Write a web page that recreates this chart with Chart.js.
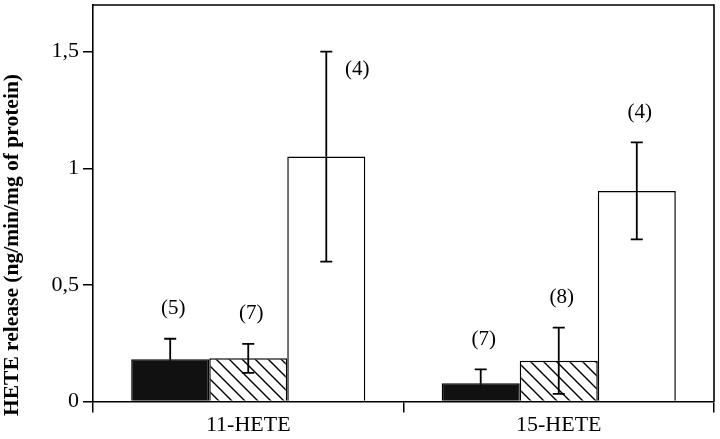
<!DOCTYPE html>
<html>
<head>
<meta charset="utf-8">
<script src="https://cdn.jsdelivr.net/npm/chart.js@4/dist/chart.umd.min.js"></script>
<style>
html,body{margin:0;padding:0;background:#fff;}
#wrap{width:720px;height:439px;position:relative;}
</style>
</head>
<body>
<div id="wrap"><canvas id="c" width="720" height="439"></canvas></div>
<script>
// ---- data ----
const categories = ['11-HETE', '15-HETE'];
const blackValues = [0.181, 0.078];
const blackErr = [0.088, 0.060];
const hatchValues = [0.185, 0.175];
const hatchErr = [0.062, 0.142];
const whiteValues = [1.05, 0.903];
const whiteErr = [0.45, 0.208];
const blackN = ['(5)', '(7)'];
const hatchN = ['(7)', '(8)'];
const whiteN = ['(4)', '(4)'];
const yTickValues = [0, 0.5, 1, 1.5];
const yTickLabels = ['0', '0,5', '1', '1,5'];
const yTitle = 'HETE release (ng/min/mg of protein)';

const FONT = "'Liberation Serif', 'Times New Roman', serif";

function hatchPattern() {
  const s = 13;
  const cv = document.createElement('canvas');
  cv.width = s; cv.height = s;
  const g = cv.getContext('2d');
  g.fillStyle = '#fff';
  g.fillRect(0, 0, s, s);
  g.strokeStyle = '#000';
  g.lineWidth = 1.4;
  g.beginPath();
  g.moveTo(-2, -2); g.lineTo(s + 2, s + 2);
  g.moveTo(-2, s - 2); g.lineTo(2, s + 2);
  g.moveTo(s - 2, -2); g.lineTo(s + 2, 2);
  g.stroke();
  return g.createPattern(cv, 'repeat');
}
const ctx = document.getElementById('c').getContext('2d');

const extrasPlugin = {
  id: 'extras',
  afterDatasetsDraw(chart) {
    const c = chart.ctx;
    const ys = chart.scales.y;
    const area = chart.chartArea;
    // frame: top and right
    c.save();
    c.strokeStyle = '#000';
    c.lineWidth = 1.6;
    c.beginPath();
    c.moveTo(area.left, area.top);
    c.lineTo(area.right, area.top);
    c.lineTo(area.right, area.bottom);
    c.stroke();
    c.restore();
    chart.data.datasets.forEach((ds, di) => {
      const meta = chart.getDatasetMeta(di);
      meta.data.forEach((el, i) => {
        const v = ds.data[i];
        const e = ds.err[i];
        const yT = ys.getPixelForValue(v + e);
        const yV = ys.getPixelForValue(v);
        const yB = ys.getPixelForValue(Math.max(0, v - e));
        c.save();
        c.lineWidth = 1.8;
        c.strokeStyle = '#000';
        c.beginPath();
        c.moveTo(el.x, yT); c.lineTo(el.x, yV);
        c.moveTo(el.x - 6, yT); c.lineTo(el.x + 6, yT);
        c.stroke();
        c.strokeStyle = ds.lowerErrColor;
        c.beginPath();
        c.moveTo(el.x, yV); c.lineTo(el.x, yB);
        c.moveTo(el.x - 6, yB); c.lineTo(el.x + 6, yB);
        c.stroke();
        // n labels
        c.fillStyle = '#000';
        c.font = '21px ' + FONT;
        c.textAlign = 'center';
        c.textBaseline = 'middle';
        const side = ds.labelSide[i];
        if (side === 'right') {
          c.fillText(ds.nLabels[i], el.x + 31, yT + 18);
        } else {
          c.fillText(ds.nLabels[i], el.x + 3, yT - 30);
        }
        c.restore();
      });
    });
    // y title
    c.save();
    c.fillStyle = '#000';
    c.font = 'bold 21.5px ' + FONT;
    c.textAlign = 'center';
    c.textBaseline = 'middle';
    c.translate(12, 245);
    c.rotate(-Math.PI / 2);
    c.fillText(yTitle, 0, 0);
    c.restore();
  }
};

new Chart(ctx, {
  type: 'bar',
  data: {
    labels: categories,
    datasets: [
      { data: blackValues, err: blackErr, nLabels: blackN, labelSide: ['above', 'above'], lowerErrColor: '#111',
        backgroundColor: '#111', borderColor: '#000', borderWidth: 1.5 },
      { data: hatchValues, err: hatchErr, nLabels: hatchN, labelSide: ['above', 'above'], lowerErrColor: '#000',
        backgroundColor: hatchPattern(), borderColor: '#000', borderWidth: 1.5 },
      { data: whiteValues, err: whiteErr, nLabels: whiteN, labelSide: ['right', 'above'], lowerErrColor: '#000',
        backgroundColor: '#fff', borderColor: '#000', borderWidth: 1.5 }
    ]
  },
  options: {
    responsive: false,
    animation: false,
    devicePixelRatio: 1,
    categoryPercentage: 0.754,
    barPercentage: 1.0,
    layout: { padding: { top: 5, right: 6, left: 0, bottom: 0 } },
    plugins: { legend: { display: false }, tooltip: { enabled: false }, title: { display: false } },
    scales: {
      x: {
        type: 'category',
        offset: true,
        grid: { display: true, drawOnChartArea: false, offset: true, tickLength: 11, color: '#000', lineWidth: 1.5 },
        border: { display: true, color: '#000', width: 1.6 },
        ticks: { color: '#000', font: { family: FONT, size: 22 }, padding: 0, maxRotation: 0 },
        afterFit(scale) { scale.height = 37.5; scale.paddingLeft = 0; scale.paddingRight = 0; }
      },
      y: {
        min: 0,
        max: 1.7,
        afterBuildTicks(scale) { scale.ticks = yTickValues.map(v => ({ value: v })); },
        grid: { display: true, drawOnChartArea: false, tickLength: 10, color: '#000', lineWidth: 1.5 },
        border: { display: true, color: '#000', width: 1.6 },
        ticks: {
          color: '#000', font: { family: FONT, size: 22 }, padding: 4,
          callback(v) { const k = yTickValues.indexOf(v); return k >= 0 ? yTickLabels[k] : ''; }
        },
        afterFit(scale) { scale.width = 93; scale.paddingTop = 0; scale.paddingBottom = 0; }
      }
    }
  },
  plugins: [extrasPlugin]
});
</script>
</body>
</html>
